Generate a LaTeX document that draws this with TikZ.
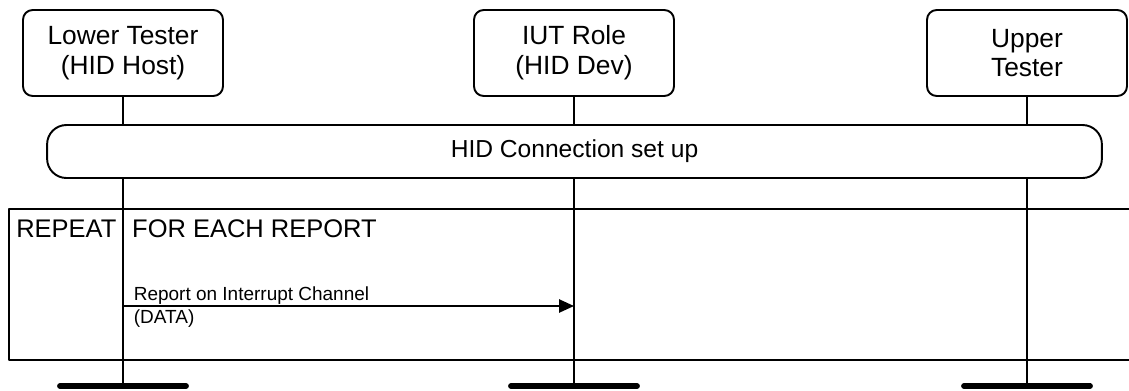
\documentclass[tikz,border=0pt]{standalone}
\usepackage{fontspec}
\setmainfont{Liberation Sans}
\usetikzlibrary{arrows.meta, positioning}

\tikzset{
  headbox/.style={draw, line width=1.1pt, rounded corners=5.5pt, fill=white,
    minimum width=4cm, minimum height=1.72cm, align=center, inner sep=2pt,
    font=\fontsize{15}{17}\selectfont},
  setupbox/.style={draw, line width=1.1pt, rounded corners=11pt, fill=white,
    minimum width=21.1cm, minimum height=1.06cm,
    font=\fontsize{14}{17}\selectfont},
  lifeline/.style={line width=1.1pt},
  endbar/.style={line width=3pt, line cap=round},
  framebox/.style={line width=1.1pt},
  msg/.style={-{Triangle[length=8.5pt, width=7.5pt]}, line width=1.1pt},
  msgtext/.style={inner sep=0pt, font=\fontsize{10.8}{12}\selectfont}
}

\begin{document}
\begin{tikzpicture}[x=0.02cm, y=-0.02cm, line join=round]

  \useasboundingbox (0,0) rectangle (1129,390);

  %--------------------------
  % Lifeline heads
  %--------------------------
  \node[headbox] (lt)  at (123,53)  {Lower Tester\\(HID Host)};
  \node[headbox] (iut) at (574,53)  {IUT Role\\(HID Dev)};
  \node[headbox] (ut)  at (1027,53) {Upper\\Tester};

  % Lifeline ends
  \coordinate (lt-end)  at (123,386);
  \coordinate (iut-end) at (574,386);
  \coordinate (ut-end)  at (1027,386);

  \draw[lifeline] (lt)  -- (lt-end);
  \draw[lifeline] (iut) -- (iut-end);
  \draw[lifeline] (ut)  -- (ut-end);

  \draw[endbar] ([xshift=-36pt]lt-end)  -- ([xshift=36pt]lt-end);
  \draw[endbar] ([xshift=-36pt]iut-end) -- ([xshift=36pt]iut-end);
  \draw[endbar] ([xshift=-36pt]ut-end)  -- ([xshift=36pt]ut-end);

  %--------------------------
  % Connection set up
  %--------------------------
  \node[setupbox] (setup) at (574.5,151.5) {HID Connection set up};

  %--------------------------
  % Repeat frame
  %--------------------------
  \draw[framebox] (9,209) rectangle (1140,360);
  \node[anchor=base west, inner sep=0pt, font=\fontsize{14.5}{17}\selectfont]
    (repeat) at (16,237) {REPEAT\hspace{9pt}FOR EACH REPORT};

  % Message
  \coordinate (lt-msg)  at (123,306);
  \coordinate (iut-msg) at (574,306);
  \draw[msg] (lt-msg) -- (iut-msg);
  \node[msgtext, above right=0.8pt and 6pt of lt-msg] (msg-top) {Report on Interrupt Channel};
  \node[msgtext, below right=1.8pt and 6pt of lt-msg] (msg-bot) {(DATA)};

\end{tikzpicture}
\end{document}
